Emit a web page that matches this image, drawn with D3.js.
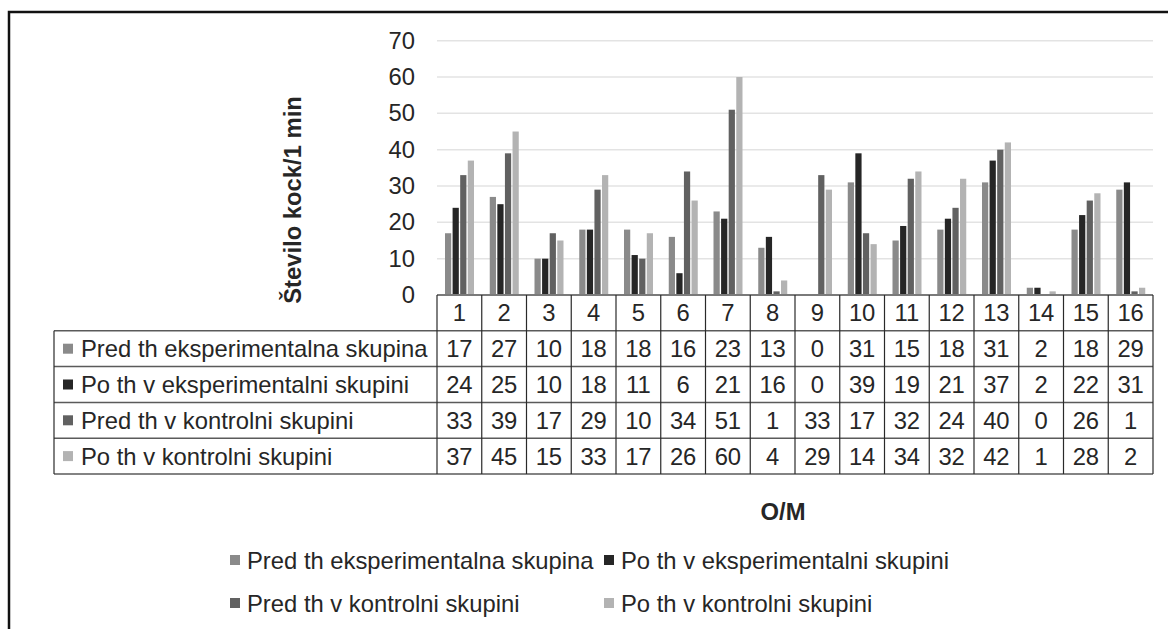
<!DOCTYPE html>
<html>
<head>
<meta charset="utf-8">
<script src="https://cdn.jsdelivr.net/npm/d3@7"></script>
<style>
  body { margin: 0; background: #fff; }
  svg { display: block; font-family: "Liberation Sans", Arial, sans-serif; }
</style>
</head>
<body>
<svg id="chart" width="1168" height="629"></svg>
<script>
categories = ["1","2","3","4","5","6","7","8","9","10","11","12","13","14","15","16"];
seriesNames = ["Pred th eksperimentalna skupina", "Po th v eksperimentalni skupini", "Pred th v kontrolni skupini", "Po th v kontrolni skupini"];
predEksp = [17,27,10,18,18,16,23,13,0,31,15,18,31,2,18,29];
poEksp   = [24,25,10,18,11,6,21,16,0,39,19,21,37,2,22,31];
predKontr = [33,39,17,29,10,34,51,1,33,17,32,24,40,0,26,1];
poKontr  = [37,45,15,33,17,26,60,4,29,14,34,32,42,1,28,2];
yTicks = [0,10,20,30,40,50,60,70];

seriesValues = [predEksp, poEksp, predKontr, poKontr];
colors = ["#8a8a8a", "#262626", "#616161", "#b3b3b3"];

margin = {left: 437, right: 1153, top: 40.7, bottom: 295};
tableLeft = 54;
rowH = 35.8;
fontSize = 23.8;

let svg = d3.select("#chart");

// frame (top and left edges only are visible)
svg.append("path")
  .attr("d", "M9,629 L9,12 L1168,12")
  .attr("fill", "none")
  .attr("stroke", "#111")
  .attr("stroke-width", 2.5);

let x0 = d3.scaleBand()
  .domain(categories)
  .range([margin.left, margin.right])
  .padding(0);

let x1 = d3.scaleBand()
  .domain(d3.range(seriesNames.length))
  .range([8, 37])
  .paddingInner(0.18);

let y = d3.scaleLinear()
  .domain([0, 70])
  .range([margin.bottom, margin.top]);

// gridlines
svg.append("g")
  .selectAll("line")
  .data(yTicks.filter(d => d > 0))
  .enter().append("line")
  .attr("x1", margin.left)
  .attr("x2", margin.right)
  .attr("y1", d => y(d))
  .attr("y2", d => y(d))
  .attr("stroke", "#e3e3e3")
  .attr("stroke-width", 1.5);

// y axis labels, no domain line
let yAxis = d3.axisLeft(y)
  .tickValues(yTicks)
  .tickSize(0)
  .tickPadding(0);

let yg = svg.append("g")
  .attr("transform", "translate(415,0)")
  .call(yAxis);
yg.select(".domain").remove();
yg.selectAll("text")
  .attr("font-family", "Liberation Sans, Arial, sans-serif")
  .attr("font-size", fontSize)
  .attr("fill", "#262626");

// y title
svg.append("text")
  .attr("transform", "translate(293,200) rotate(-90)")
  .attr("text-anchor", "middle")
  .attr("dy", "0.35em")
  .attr("font-weight", "bold")
  .attr("font-size", fontSize)
  .attr("fill", "#262626")
  .text("Število kock/1 min");

// bars
seriesValues.forEach(function(vals, s) {
  svg.append("g")
    .selectAll("rect")
    .data(vals)
    .enter().append("rect")
    .attr("x", (d, i) => x0(categories[i]) + x1(s))
    .attr("width", x1.bandwidth())
    .attr("y", d => y(d))
    .attr("height", d => y(0) - y(d))
    .attr("fill", colors[s]);
});

// data table
let table = svg.append("g");
let rowTop = d => margin.bottom + d * rowH;

// horizontal lines
table.append("line")
  .attr("x1", margin.left).attr("x2", margin.right)
  .attr("y1", rowTop(0)).attr("y2", rowTop(0))
  .attr("stroke", "#7a7a7a").attr("stroke-width", 2);

for (let r = 1; r <= seriesNames.length + 1; r++) {
  table.append("line")
    .attr("x1", tableLeft).attr("x2", margin.right)
    .attr("y1", rowTop(r)).attr("y2", rowTop(r))
    .attr("stroke", "#5a5a5a").attr("stroke-width", 1.5);
}

// vertical lines
let vx = categories.map(c => x0(c)).concat([margin.right]);
table.selectAll(".vline")
  .data(vx)
  .enter().append("line")
  .attr("class", "vline")
  .attr("x1", d => d).attr("x2", d => d)
  .attr("y1", rowTop(0)).attr("y2", rowTop(seriesNames.length + 1))
  .attr("stroke", "#2a2a2a").attr("stroke-width", 1.2);

table.append("line")
  .attr("x1", tableLeft).attr("x2", tableLeft)
  .attr("y1", rowTop(1)).attr("y2", rowTop(seriesNames.length + 1))
  .attr("stroke", "#2a2a2a").attr("stroke-width", 1.2);

// header numbers
table.selectAll(".hdr")
  .data(categories)
  .enter().append("text")
  .attr("class", "hdr")
  .attr("x", d => x0(d) + x0.bandwidth() / 2)
  .attr("y", rowTop(0) + rowH / 2)
  .attr("dy", "0.36em")
  .attr("text-anchor", "middle")
  .attr("font-size", fontSize)
  .attr("fill", "#262626")
  .text(d => d);

seriesNames.forEach(function(name, s) {
  let cy = rowTop(s + 1) + rowH / 2;
  table.append("rect")
    .attr("x", 63).attr("y", cy - 5)
    .attr("width", 10).attr("height", 10)
    .attr("fill", colors[s]);
  table.append("text")
    .attr("x", 81).attr("y", cy)
    .attr("dy", "0.36em")
    .attr("font-size", fontSize)
    .attr("fill", "#262626")
    .text(name);
  table.append("g")
    .selectAll("text")
    .data(seriesValues[s])
    .enter().append("text")
    .attr("x", (d, i) => x0(categories[i]) + x0.bandwidth() / 2)
    .attr("y", cy)
    .attr("dy", "0.36em")
    .attr("text-anchor", "middle")
    .attr("font-size", fontSize)
    .attr("fill", "#262626")
    .text(d => d);
});

// x title
svg.append("text")
  .attr("x", 783)
  .attr("y", 512)
  .attr("dy", "0.35em")
  .attr("text-anchor", "middle")
  .attr("font-weight", "bold")
  .attr("font-size", fontSize)
  .attr("fill", "#262626")
  .text("O/M");

// legend, 2 x 2
let legendPos = [[230, 560], [604, 560], [230, 603], [604, 603]];
let legend = svg.append("g")
  .selectAll("g")
  .data(seriesNames)
  .enter().append("g")
  .attr("transform", (d, i) => "translate(" + legendPos[i][0] + "," + legendPos[i][1] + ")");

legend.append("rect")
  .attr("x", 0).attr("y", -5)
  .attr("width", 10).attr("height", 10)
  .attr("fill", (d, i) => colors[i]);

legend.append("text")
  .attr("x", 17)
  .attr("dy", "0.36em")
  .attr("font-size", fontSize)
  .attr("fill", "#262626")
  .text(d => d);
</script>
</body>
</html>
